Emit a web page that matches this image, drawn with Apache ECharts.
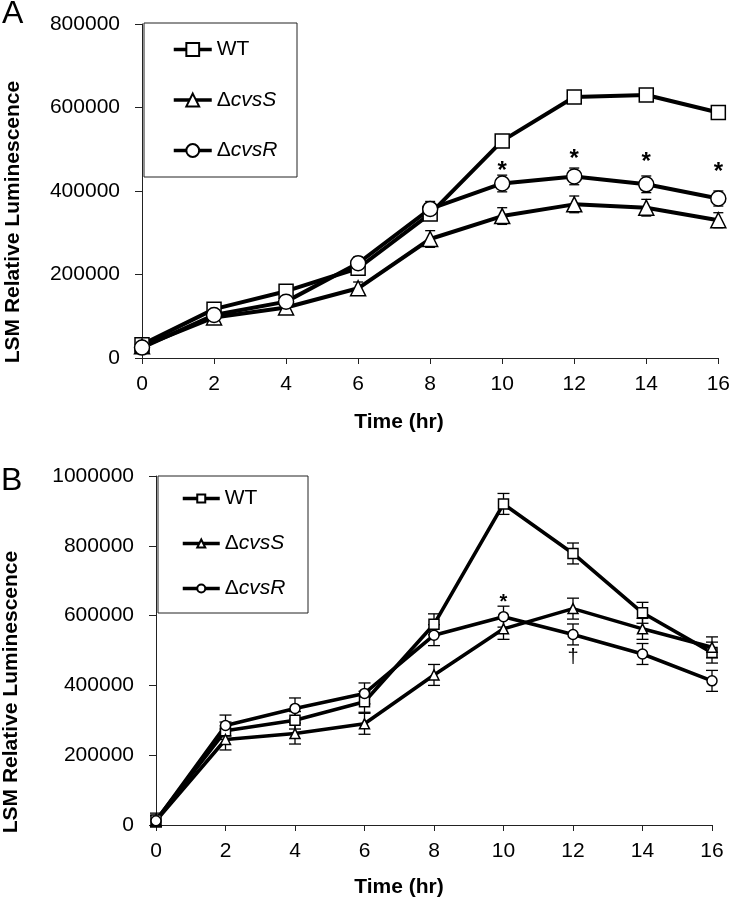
<!DOCTYPE html>
<html>
<head>
<meta charset="utf-8">
<script src="https://cdn.jsdelivr.net/npm/echarts@6/dist/echarts.min.js"></script>
<style>
html,body{margin:0;padding:0;background:#fff;}
#c{width:733px;height:900px;}
</style>
</head>
<body>
<div id="c"></div>
<script>
// ---- data ----
var times = [0, 2, 4, 6, 8, 10, 12, 14, 16];
var xTicks = [0, 2, 4, 6, 8, 10, 12, 14, 16];
var seriesNames = ['WT', 'ΔcvsS', 'ΔcvsR'];

// Panel A
var wtA    = [32000, 117000, 160000, 215000, 345000, 520000, 625000, 630000, 588000];
var cvsSA  = [28000, 97000, 121000, 167000, 285000, 340000, 368000, 360000, 330000];
var cvsRA  = [25000, 103000, 135000, 227000, 357000, 418000, 435000, 416000, 382000];
var wtErrA   = [12000, 12000, 12000, 15000, 15000, 15000, 15000, 15000, 15000];
var cvsSErrA = [10000, 10000, 12000, 15000, 20000, 20000, 20000, 20000, 18000];
var cvsRErrA = [10000, 10000, 10000, 15000, 18000, 20000, 20000, 20000, 18000];
var annAx = [10, 12, 14, 16];
var annAy = [462000, 489000, 484000, 458000];
var annAtext = ['*', '*', '*', '*'];

// Panel B
var wtB    = [14000, 270000, 300000, 353000, 575000, 920000, 778000, 608000, 494000];
var cvsSB  = [12000, 245000, 262000, 290000, 430000, 562000, 620000, 562000, 509000];
var cvsRB  = [12000, 285000, 334000, 377000, 544000, 597000, 546000, 490000, 413000];
var wtErrB   = [20000, 25000, 25000, 30000, 30000, 30000, 30000, 30000, 30000];
var cvsSErrB = [15000, 30000, 30000, 30000, 30000, 30000, 30000, 30000, 30000];
var cvsRErrB = [15000, 30000, 30000, 30000, 30000, 30000, 30000, 30000, 30000];
var annBx = [10, 12];
var annBy = [656000, 481000];
var annBtext = ['*', '†'];

// ---- helpers ----
var FONT = '"Liberation Sans", Arial, Helvetica, sans-serif';
function pairs(xs, ys) { return xs.map(function (x, i) { return [x, ys[i]]; }); }
function triples(xs, ys, es) { return xs.map(function (x, i) { return [x, ys[i], es[i]]; }); }

function lineSeries(name, symbol, vals, gi, size, lw) {
  return {
    type: 'line', name: name, xAxisIndex: gi, yAxisIndex: gi,
    data: pairs(times, vals), symbol: symbol, symbolSize: size, showAllSymbol: true,
    lineStyle: { color: '#000', width: lw },
    itemStyle: { color: '#fff', borderColor: '#000', borderWidth: 1.5 },
    z: 3, animation: false, emphasis: { disabled: true }
  };
}
function errSeries(vals, errs, gi, cap) {
  return {
    type: 'custom', xAxisIndex: gi, yAxisIndex: gi, z: 2, animation: false,
    data: triples(times, vals, errs), encode: { x: 0, y: 1 },
    renderItem: function (params, api) {
      var x = api.value(0), y = api.value(1), e = api.value(2);
      var t = api.coord([x, y + e]), b = api.coord([x, y - e]);
      var st = { stroke: '#000', lineWidth: 1.3 };
      return { type: 'group', children: [
        { type: 'line', shape: { x1: t[0], y1: t[1], x2: b[0], y2: b[1] }, style: st },
        { type: 'line', shape: { x1: t[0] - cap, y1: t[1], x2: t[0] + cap, y2: t[1] }, style: st },
        { type: 'line', shape: { x1: b[0] - cap, y1: b[1], x2: b[0] + cap, y2: b[1] }, style: st }
      ]};
    }
  };
}
function annSeries(xs, ys, texts, gi, fontSize, dy) {
  return {
    type: 'custom', xAxisIndex: gi, yAxisIndex: gi, z: 4, animation: false,
    data: pairs(xs, ys), encode: { x: 0, y: 1 },
    renderItem: function (params, api) {
      var p = api.coord([api.value(0), api.value(1)]);
      var txt = texts[params.dataIndex];
      var isStar = txt === '*';
      return { type: 'text', x: p[0], y: p[1] + (isStar ? dy : 0),
        style: { text: txt, font: (isStar ? 'bold ' : '') + fontSize + 'px ' + FONT,
                 fill: '#000', textAlign: 'center', textVerticalAlign: 'middle' } };
    }
  };
}
function xAxisCfg(gi) {
  return {
    type: 'value', gridIndex: gi, min: 0, max: 16, interval: 2,
    axisLine: { onZero: false, lineStyle: { color: '#222', width: 1 } },
    axisTick: { length: 6, lineStyle: { color: '#222' } },
    axisLabel: { color: '#000', fontSize: 21, fontFamily: FONT, margin: 16 },
    splitLine: { show: false }
  };
}
function yAxisCfg(gi, max) {
  return {
    type: 'value', gridIndex: gi, min: 0, max: max, interval: 200000,
    axisLine: { show: true, lineStyle: { color: '#222', width: 1 } },
    axisTick: { show: true, length: 7, lineStyle: { color: '#222' } },
    axisLabel: { color: '#000', fontSize: 21, fontFamily: FONT, margin: 22,
      formatter: function (v) { return String(v); } },
    splitLine: { show: false }
  };
}
var legendRich = {
  n: { fontSize: 21, fontFamily: FONT, color: '#000', lineHeight: 22 },
  i: { fontSize: 21, fontFamily: FONT, fontStyle: 'italic', color: '#000', lineHeight: 22 }
};
function legendFmt(name) {
  if (name.charAt(0) === 'Δ') return '{n|Δ}{i|' + name.slice(1) + '}';
  return '{n|' + name + '}';
}

var chart = echarts.init(document.getElementById('c'), null, { renderer: 'canvas' });
chart.setOption({
  backgroundColor: '#fff',
  animation: false,
  grid: [
    { left: 142, right: 12, top: 24, height: 334 },
    { left: 156, right: 21, top: 476, height: 349 }
  ],
  xAxis: [xAxisCfg(0), xAxisCfg(1)],
  yAxis: [yAxisCfg(0, 800000), yAxisCfg(1, 1000000)],
  legend: [
    { data: seriesNames, orient: 'vertical', left: 172, top: 39, padding: 0, itemWidth: 38, itemHeight: 16,
      itemGap: 29.5, selectedMode: false, formatter: legendFmt,
      lineStyle: { width: 3.5, color: '#000' },
      textStyle: { rich: legendRich, color: '#000' } },
    { data: seriesNames, orient: 'vertical', left: 181, top: 488, padding: 0, itemWidth: 37, itemHeight: 10,
      itemGap: 24, selectedMode: false, formatter: legendFmt,
      lineStyle: { width: 3.5, color: '#000' },
      textStyle: { rich: legendRich, color: '#000' } }
  ],
  graphic: [
    { type: 'rect', shape: { x: 144, y: 23, width: 153, height: 154 }, z: -1,
      style: { fill: '#fff', stroke: '#222', lineWidth: 1 } },
    { type: 'rect', shape: { x: 158, y: 476, width: 150, height: 137 }, z: -1,
      style: { fill: '#fff', stroke: '#222', lineWidth: 1 } },
    { type: 'text', x: 2, y: 14, style: { text: 'A', font: '32px ' + FONT, fill: '#000', textVerticalAlign: 'middle' } },
    { type: 'text', x: 1, y: 481, style: { text: 'B', font: '32px ' + FONT, fill: '#000', textVerticalAlign: 'middle' } },
    { type: 'text', x: 13, y: 222, rotation: Math.PI / 2,
      style: { text: 'LSM Relative Luminescence', font: 'bold 21px ' + FONT, fill: '#000', textAlign: 'center', textVerticalAlign: 'middle' } },
    { type: 'text', x: 11, y: 692, rotation: Math.PI / 2,
      style: { text: 'LSM Relative Luminescence', font: 'bold 21px ' + FONT, fill: '#000', textAlign: 'center', textVerticalAlign: 'middle' } },
    { type: 'text', x: 399, y: 422,
      style: { text: 'Time (hr)', font: 'bold 21px ' + FONT, fill: '#000', textAlign: 'center', textVerticalAlign: 'middle' } },
    { type: 'text', x: 399, y: 887,
      style: { text: 'Time (hr)', font: 'bold 21px ' + FONT, fill: '#000', textAlign: 'center', textVerticalAlign: 'middle' } }
  ],
  series: [
    errSeries(wtA, wtErrA, 0, 5),
    errSeries(cvsSA, cvsSErrA, 0, 5),
    errSeries(cvsRA, cvsRErrA, 0, 5),
    lineSeries('WT', 'rect', wtA, 0, 14, 4),
    lineSeries('ΔcvsS', 'triangle', cvsSA, 0, 15, 4),
    lineSeries('ΔcvsR', 'circle', cvsRA, 0, 15, 4),
    annSeries(annAx, annAy, annAtext, 0, 24, 6),
    errSeries(wtB, wtErrB, 1, 6),
    errSeries(cvsSB, cvsSErrB, 1, 6),
    errSeries(cvsRB, cvsRErrB, 1, 6),
    lineSeries('WT', 'rect', wtB, 1, 10, 3.6),
    lineSeries('ΔcvsS', 'triangle', cvsSB, 1, 10, 3.6),
    lineSeries('ΔcvsR', 'circle', cvsRB, 1, 10, 3.6),
    annSeries(annBx, annBy, annBtext, 1, 20, 6)
  ]
});
</script>
</body>
</html>
